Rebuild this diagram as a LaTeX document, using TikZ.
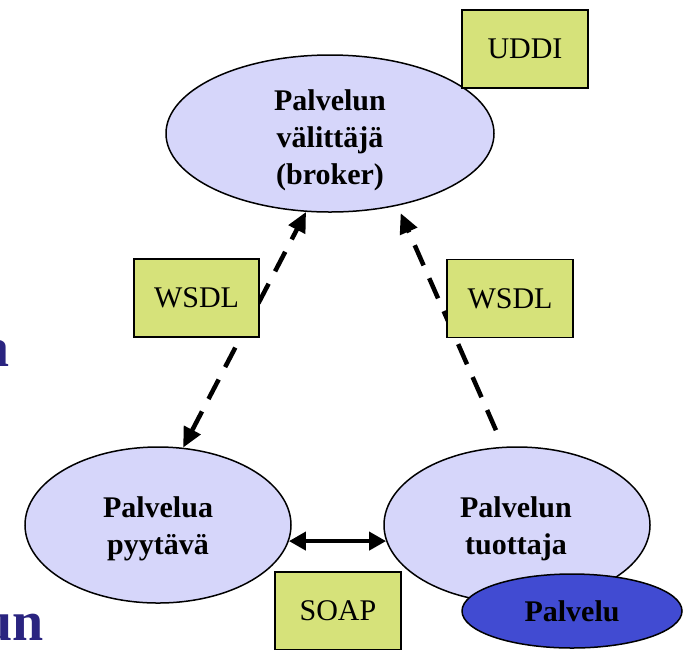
\documentclass[tikz,border=0pt]{standalone}
\usepackage{fontspec}
\setmainfont{Liberation Serif}
\usetikzlibrary{arrows.meta,shapes.geometric}
\definecolor{lavender}{RGB}{214,214,250}
\definecolor{olivebox}{RGB}{214,226,122}
\definecolor{serviceblue}{RGB}{65,75,210}
\definecolor{titleblue}{RGB}{42,36,128}
\begin{document}
\begin{tikzpicture}[x=1pt,y=-1pt,
  role/.style={ellipse, draw=black, line width=1.5pt, fill=lavender, inner sep=0pt},
  rolelabel/.style={font=\fontsize{30}{37}\selectfont\bfseries, align=center, inner sep=0pt},
  specbox/.style={draw=black, line width=1.5pt, fill=olivebox, inner sep=0pt,
    font=\fontsize{30}{36}\selectfont, minimum width=125pt, minimum height=78pt},
  link/.style={line width=4.5pt, dash pattern=on 22pt off 14pt},
  wtip/.style={arrows={-Triangle[length=20pt,width=18pt]}},
  fragment/.style={anchor=base east, inner sep=0pt, text=titleblue,
    font=\fontsize{56}{60}\selectfont\bfseries}
]
\useasboundingbox (0,0) rectangle (684,649);
\clip (0,0) rectangle (684,649);

% cut-off slide text on the left
\node[fragment] (fraga) at (10,366) {a};
\node[fragment] (fragun) at (44,640) {un};

% roles
\node[role, minimum width=328pt, minimum height=157pt] (broker) at (330,133.5) {};
\node[rolelabel] (brokertext) at (330,140) {Palvelun\\välittäjä\\(broker)};
\node[role, minimum width=266pt, minimum height=156pt] (req) at (158,525) {};
\node[rolelabel] (reqtext) at (158,529) {Palvelua\\pyytävä};
\node[role, minimum width=266pt, minimum height=156pt] (prov) at (517,525) {};
\node[rolelabel] (provtext) at (516,529) {Palvelun\\tuottaja};
\node[ellipse, draw=black, line width=1.5pt, fill=serviceblue, inner sep=0pt,
  minimum width=220pt, minimum height=74pt,
  font=\fontsize{30}{36}\selectfont\bfseries] (service) at (572,611) {Palvelu};

% publish / find links
\draw[link, arrows={Triangle[length=20pt,width=18pt]-Triangle[length=20pt,width=18pt]}]
  (req.72) -- (broker.253);
\draw[link, wtip, shorten <=18pt, shorten >=8pt] (prov.100) -- (broker.313);

% bind link
\draw[line width=4pt, arrows={Triangle[length=17pt,width=18pt]-Triangle[length=17pt,width=18pt]}]
  (req.353) -- (prov.187);

% protocol / registry boxes
\node[specbox, minimum width=126pt] (uddi) at (525,49) {UDDI};
\node[specbox] (wsdlreq) at (196.5,298) {WSDL};
\node[specbox, minimum width=126pt] (wsdlprov) at (510,298.5) {WSDL};
\node[specbox, minimum width=126pt] (soap) at (338,611) {SOAP};
\end{tikzpicture}
\end{document}
